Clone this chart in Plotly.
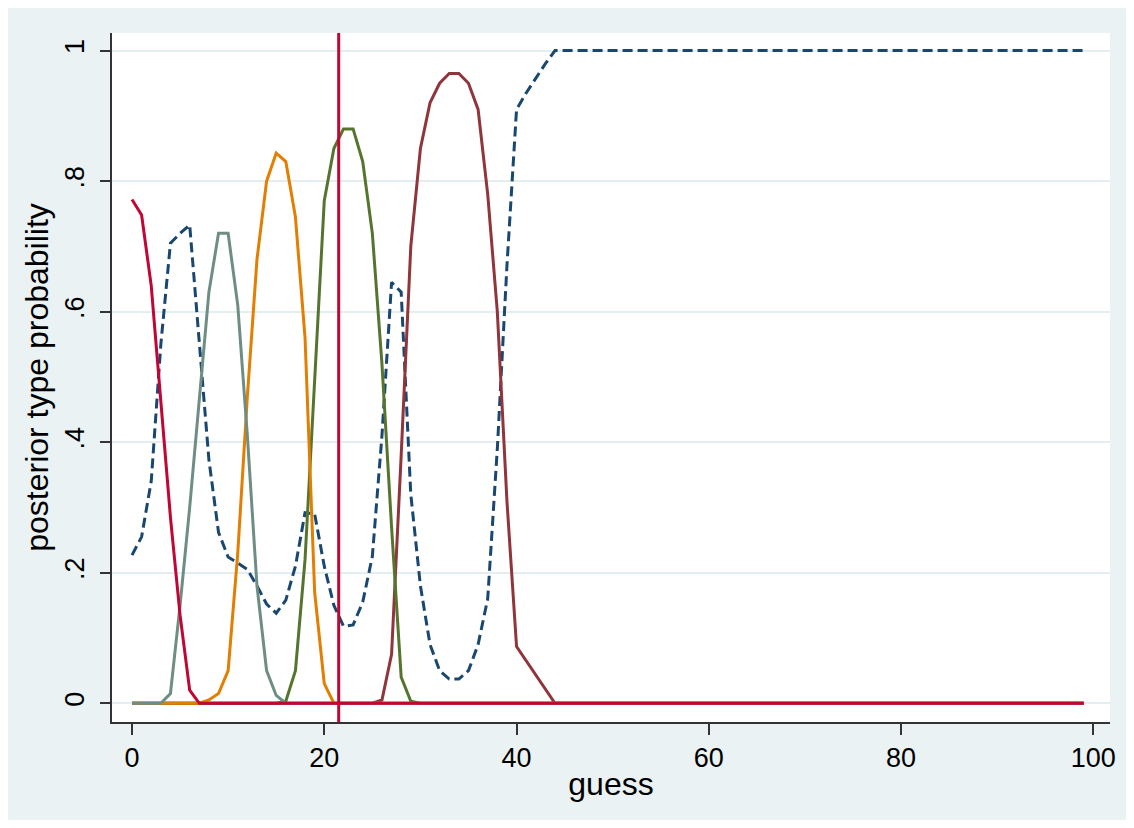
import plotly.graph_objects as go

# guess values (x) 0..99
guess = list(range(100))

# posterior type probabilities
p_navy = [0.227, 0.255, 0.34, 0.55, 0.705, 0.72, 0.733, 0.55, 0.373, 0.262,
          0.224, 0.215, 0.205, 0.18, 0.152, 0.138, 0.158, 0.21, 0.292, 0.29,
          0.21, 0.15, 0.118, 0.12, 0.155, 0.225, 0.41, 0.645, 0.63, 0.32,
          0.18, 0.09, 0.05, 0.037, 0.037, 0.05, 0.09, 0.16, 0.39, 0.67,
          0.91, 0.935, 0.958, 0.98, 1.0, 1.0, 1.0, 1.0, 1.0, 1.0,
          1.0, 1.0, 1.0, 1.0, 1.0, 1.0, 1.0, 1.0, 1.0, 1.0,
          1.0, 1.0, 1.0, 1.0, 1.0, 1.0, 1.0, 1.0, 1.0, 1.0,
          1.0, 1.0, 1.0, 1.0, 1.0, 1.0, 1.0, 1.0, 1.0, 1.0,
          1.0, 1.0, 1.0, 1.0, 1.0, 1.0, 1.0, 1.0, 1.0, 1.0,
          1.0, 1.0, 1.0, 1.0, 1.0, 1.0, 1.0, 1.0, 1.0, 1.0]

p_maroon = [0, 0, 0, 0, 0, 0, 0, 0, 0, 0,
            0, 0, 0, 0, 0, 0, 0, 0, 0, 0,
            0, 0, 0, 0, 0, 0, 0.005, 0.075, 0.38, 0.70,
            0.85, 0.92, 0.95, 0.965, 0.965, 0.95, 0.91, 0.78, 0.60, 0.31,
            0.087, 0.065, 0.043, 0.022, 0, 0, 0, 0, 0, 0,
            0, 0, 0, 0, 0, 0, 0, 0, 0, 0,
            0, 0, 0, 0, 0, 0, 0, 0, 0, 0,
            0, 0, 0, 0, 0, 0, 0, 0, 0, 0,
            0, 0, 0, 0, 0, 0, 0, 0, 0, 0,
            0, 0, 0, 0, 0, 0, 0, 0, 0, 0]

p_green = [0, 0, 0, 0, 0, 0, 0, 0, 0, 0,
           0, 0, 0, 0, 0, 0, 0.003, 0.05, 0.22, 0.50,
           0.77, 0.85, 0.88, 0.88, 0.83, 0.72, 0.52, 0.27, 0.04, 0.003,
           0, 0, 0, 0, 0, 0, 0, 0, 0, 0,
           0, 0, 0, 0, 0, 0, 0, 0, 0, 0,
           0, 0, 0, 0, 0, 0, 0, 0, 0, 0,
           0, 0, 0, 0, 0, 0, 0, 0, 0, 0,
           0, 0, 0, 0, 0, 0, 0, 0, 0, 0,
           0, 0, 0, 0, 0, 0, 0, 0, 0, 0,
           0, 0, 0, 0, 0, 0, 0, 0, 0, 0]

p_orange = [0, 0, 0, 0, 0, 0, 0, 0, 0.005, 0.015,
            0.05, 0.23, 0.47, 0.68, 0.80, 0.843, 0.83, 0.745, 0.56, 0.17,
            0.03, 0, 0, 0, 0, 0, 0, 0, 0, 0,
            0, 0, 0, 0, 0, 0, 0, 0, 0, 0,
            0, 0, 0, 0, 0, 0, 0, 0, 0, 0,
            0, 0, 0, 0, 0, 0, 0, 0, 0, 0,
            0, 0, 0, 0, 0, 0, 0, 0, 0, 0,
            0, 0, 0, 0, 0, 0, 0, 0, 0, 0,
            0, 0, 0, 0, 0, 0, 0, 0, 0, 0,
            0, 0, 0, 0, 0, 0, 0, 0, 0, 0]

p_teal = [0, 0, 0, 0, 0.015, 0.15, 0.30, 0.46, 0.63, 0.72,
          0.72, 0.61, 0.41, 0.18, 0.05, 0.012, 0, 0, 0, 0,
          0, 0, 0, 0, 0, 0, 0, 0, 0, 0,
          0, 0, 0, 0, 0, 0, 0, 0, 0, 0,
          0, 0, 0, 0, 0, 0, 0, 0, 0, 0,
          0, 0, 0, 0, 0, 0, 0, 0, 0, 0,
          0, 0, 0, 0, 0, 0, 0, 0, 0, 0,
          0, 0, 0, 0, 0, 0, 0, 0, 0, 0,
          0, 0, 0, 0, 0, 0, 0, 0, 0, 0,
          0, 0, 0, 0, 0, 0, 0, 0, 0, 0]

p_red = [0.772, 0.748, 0.64, 0.46, 0.285, 0.135, 0.02, 0, 0, 0,
         0, 0, 0, 0, 0, 0, 0, 0, 0, 0,
         0, 0, 0, 0, 0, 0, 0, 0, 0, 0,
         0, 0, 0, 0, 0, 0, 0, 0, 0, 0,
         0, 0, 0, 0, 0, 0, 0, 0, 0, 0,
         0, 0, 0, 0, 0, 0, 0, 0, 0, 0,
         0, 0, 0, 0, 0, 0, 0, 0, 0, 0,
         0, 0, 0, 0, 0, 0, 0, 0, 0, 0,
         0, 0, 0, 0, 0, 0, 0, 0, 0, 0,
         0, 0, 0, 0, 0, 0, 0, 0, 0, 0]

vline_x = 21.5

x_ticks = [0, 20, 40, 60, 80, 100]
y_ticks = [0, 0.2, 0.4, 0.6, 0.8, 1.0]
y_ticktext = ["0", ".2", ".4", ".6", ".8", "1"]

series = [
    (p_navy, "#1A476F", "10px,5px"),
    (p_maroon, "#90353B", "solid"),
    (p_green, "#55752F", "solid"),
    (p_orange, "#E37E00", "solid"),
    (p_teal, "#6E8E84", "solid"),
    (p_red, "#C10534", "solid"),
]

fig = go.Figure()
for vals, col, dash in series:
    fig.add_trace(go.Scatter(x=guess, y=vals, mode="lines",
                             line=dict(color=col, width=3, dash=dash),
                             showlegend=False, hoverinfo="skip"))

fig.add_shape(type="line", x0=vline_x, x1=vline_x, y0=0, y1=1,
              xref="x", yref="paper",
              line=dict(color="#C10534", width=3))

font_family = "Liberation Sans, Arial, sans-serif"
fig.update_layout(
    width=1120, height=812,
    margin=dict(l=104, r=16, t=25, b=98),
    paper_bgcolor="#EAF2F3",
    plot_bgcolor="white",
    font=dict(family=font_family, size=27, color="black"),
    xaxis=dict(range=[-2.08, 101.73], tickvals=x_ticks,
               ticks="outside", ticklen=11, tickwidth=1.5, tickcolor="#333",
               showline=True, linecolor="#333", linewidth=1.5,
               showgrid=False, zeroline=False,
               title=dict(text="guess", standoff=0),
               tickfont=dict(size=27)),
    yaxis=dict(range=[-0.0287, 1.027], tickvals=y_ticks, ticktext=y_ticktext,
               tickangle=-90, ticklabelstandoff=5,
               ticks="outside", ticklen=10, tickwidth=1.5, tickcolor="#333",
               showline=True, linecolor="#333", linewidth=1.5,
               showgrid=True, gridcolor="#E4EEF0", gridwidth=1.5,
               zeroline=False,
               title=dict(text="posterior type probability", standoff=2),
               tickfont=dict(size=27)),
)

fig.write_html("out.html")
